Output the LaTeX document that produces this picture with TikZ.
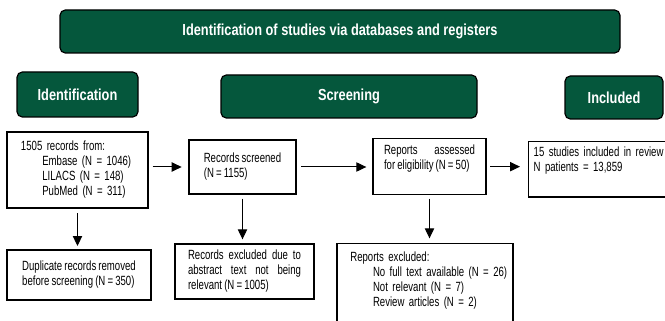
\documentclass[tikz,border=0pt]{standalone}
\usepackage{fontspec}
\setmainfont[FakeStretch=0.72, WordSpace=0.8]{Liberation Sans}
\newfontfamily\headfont[FakeStretch=0.8]{Liberation Sans}
\usepackage{tikz}
\usetikzlibrary{arrows.meta}
\definecolor{prismagreen}{RGB}{5,87,60}
\newcommand{\boxfill}[1]{\rule[-#1]{0pt}{#1}}

\begin{document}
\begin{tikzpicture}[x=0.75pt, y=-0.75pt, >={Triangle[length=7.5pt,width=7pt]},
  head/.style={draw=black, line width=0.9pt, fill=prismagreen, rounded corners=4pt, text=white,
    font=\headfont\bfseries\fontsize{12}{14}\selectfont, inner sep=0pt, minimum height=32.25pt},
  box/.style={draw, line width=1pt, font=\fontsize{10}{11.25}\selectfont, align=left, inner ysep=3pt},
  flow/.style={->, line width=0.75pt}]

  \useasboundingbox (0,0) rectangle (665,321);

  % headings
  \node [head, minimum width=420pt] (ttl) at (340,31.5) {Identification of studies via databases and registers};
  \node [head, minimum width=90.75pt, minimum height=33.75pt] (ident) at (77.5,94.5) {Identification};
  \node [head, minimum width=192pt] (screen) at (349,96.5) {Screening};
  \node [head, minimum width=73.5pt] (incl) at (614,97.5) {Included};

  % top row
  \node [box, text width=84.75pt, inner xsep=10.5pt, minimum height=57pt] (records) at (77.5,170)
      {1505 records from:\\
       \hspace*{16pt}\mbox{Embase (N = 1046)}\\
       \hspace*{16pt}\mbox{LILACS (N = 148)}\\
       \hspace*{16pt}\mbox{PubMed (N = 311)}};
  \node [box, minimum width=80.25pt, minimum height=40.5pt] (screened) at (242.5,167)
      {Records screened\\(N = 1155)};
  \node [box, anchor=north, align=justify, text width=68.25pt, inner xsep=8.25pt, inner ysep=4.5pt] (assessed) at (429.5,138)
      {Reports assessed\linebreak for eligibility (N = 50)\boxfill{14.5pt}};
  \node [box, anchor=north west, text width=105pt, inner xsep=3.75pt, inner ysep=4pt] (included) at (528,141)
      {\mbox{15 studies included in review}\\N patients = 13,859\boxfill{15pt}};

  % bottom row
  \node [box, minimum width=108pt, minimum height=37.5pt] (duplicates) at (79,275)
      {Duplicate records removed\\before screening (N = 350)};
  \node [box, align=justify, text width=84.75pt, inner xsep=9.75pt, minimum height=41.25pt] (abstracts) at (244.5,271.5)
      {Records excluded due to\linebreak abstract text not being\linebreak relevant (N = 1005)};
  \node [box, anchor=north, text width=112pt, inner xsep=10pt, inner ysep=6.5pt] (excluded) at (425,243)
      {Reports excluded:\\
       \hspace*{17pt}\mbox{No full text available (N = 26)}\\
       \hspace*{17pt}\mbox{Not relevant (N = 7)}\\
       \hspace*{17pt}\mbox{Review articles (N = 2)}\boxfill{30pt}};

  % connectors
  \draw [flow, shorten <=3pt, shorten >=5pt] (records.east |- screened.west) -- (screened.west);
  \draw [flow, shorten <=3.5pt, shorten >=4.5pt] (screened.east) -- (screened.east -| assessed.west);
  \draw [flow, shorten <=2.5pt, shorten >=6pt] (assessed.east) -- (assessed.east -| included.west);
  \draw [flow, shorten <=3.5pt, shorten >=2.5pt] (records.south) -- (records.south |- duplicates.north);
  \draw [flow, shorten <=3pt, shorten >=3pt] (screened.south) -- (screened.south |- abstracts.north);
  \draw [flow, shorten <=2.5pt, shorten >=3.5pt] (assessed.south) -- (assessed.south |- excluded.north);
\end{tikzpicture}
\end{document}
